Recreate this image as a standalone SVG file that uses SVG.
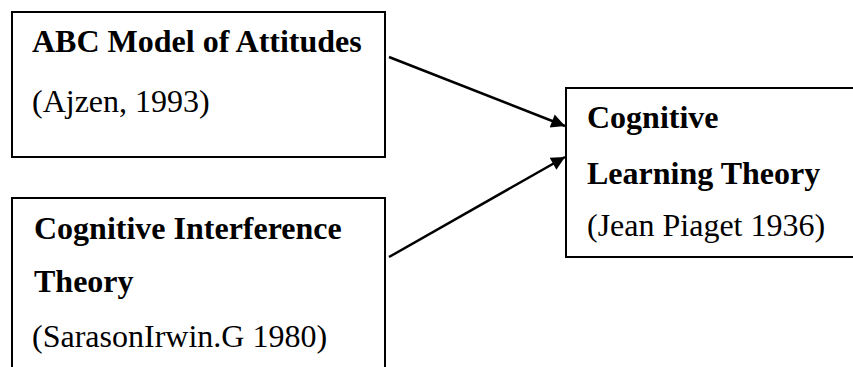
<svg xmlns="http://www.w3.org/2000/svg" width="853" height="367" viewBox="0 0 853 367">
<style>
.box{fill:#fff;stroke:#000;stroke-width:2}
.t{font-family:"Liberation Serif","Times New Roman",serif;font-size:32px;fill:#000}
.b{font-weight:bold}
.edge{stroke:#000;stroke-width:2.5;fill:none}
</style>
<defs>
<marker id="ah" viewBox="0 0 10 10" refX="10" refY="5" markerWidth="6.5" markerHeight="5.5" markerUnits="strokeWidth" orient="auto">
<path d="M0,0 L10,5 L0,10 z" fill="#000"/>
</marker>
</defs>
<rect width="853" height="367" fill="#fff"/>
<g id="node-abc">
<rect class="box" x="12" y="12" width="373" height="145"/>
<text class="t b" x="32" y="52">ABC Model of Attitudes</text>
<text class="t" x="32" y="112">(Ajzen, 1993)</text>
</g>
<g id="node-cit">
<rect class="box" x="12" y="198" width="373" height="190"/>
<text class="t b" x="34" y="239">Cognitive Interference</text>
<text class="t b" x="34" y="292">Theory</text>
<text class="t" x="32" y="347">(SarasonIrwin.G 1980)</text>
</g>
<g id="node-clt">
<rect class="box" x="566" y="88" width="300" height="169"/>
<text class="t b" x="587" y="128">Cognitive</text>
<text class="t b" x="587" y="184">Learning Theory</text>
<text class="t" x="587" y="236">(Jean Piaget 1936)</text>
</g>
<g id="connectors">
<line class="edge" x1="389" y1="57" x2="565" y2="126" marker-end="url(#ah)"/>
<line class="edge" x1="389" y1="257" x2="565" y2="157" marker-end="url(#ah)"/>
</g>
</svg>
